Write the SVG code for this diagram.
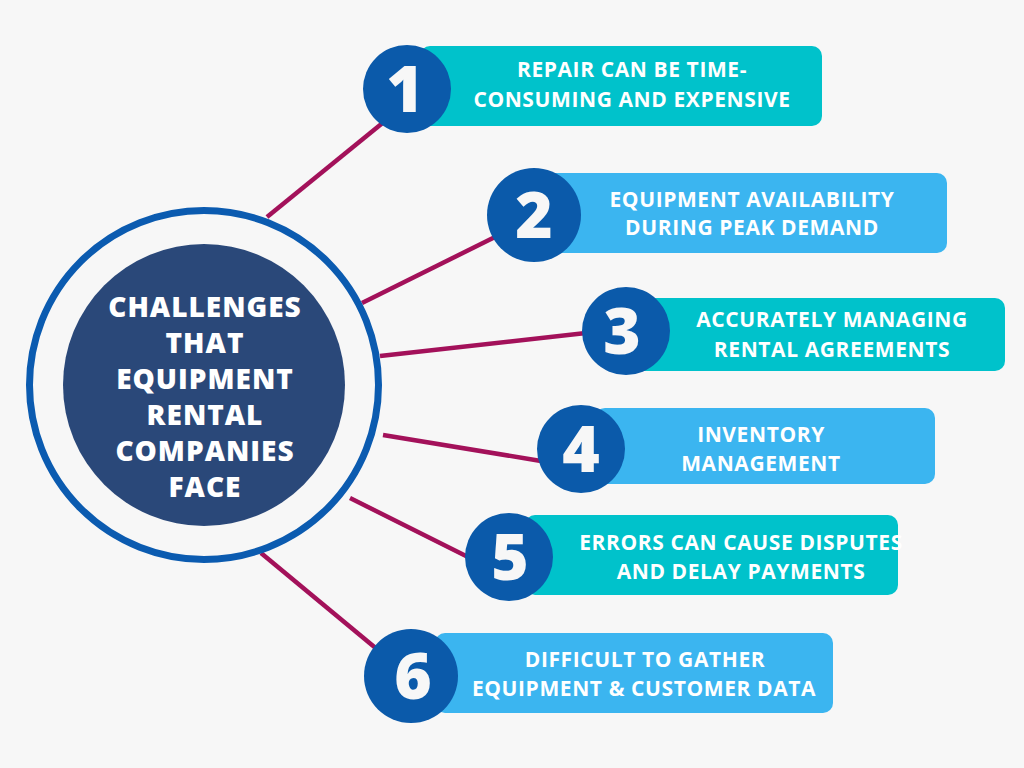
<svg xmlns="http://www.w3.org/2000/svg" width="1024" height="768" viewBox="0 0 1024 768">
<style>
.bg{fill:#F7F7F7}
.con{stroke:#A3115A;stroke-width:4.5;stroke-linecap:butt;fill:none}
.num{fill:#0B5AAA}
.teal{fill:#00C2CB}
.sky{fill:#3BB5F0}
.numt{font-family:"Open Sans","Liberation Sans",sans-serif;font-weight:800;font-size:64px;fill:#F7F7F7;text-anchor:middle}
.lbl{font-family:"Open Sans","Liberation Sans",sans-serif;font-weight:700;font-size:21px;letter-spacing:0.6px;fill:#FFFFFF;text-anchor:middle}
.ctr{font-family:"Open Sans","Liberation Sans",sans-serif;font-weight:800;font-size:28px;letter-spacing:1px;fill:#FFFFFF;text-anchor:middle}
</style>
<rect class="bg" x="0" y="0" width="1024" height="768"/>
<g id="connectors">
<line class="con" x1="267" y1="217" x2="385" y2="121"/>
<line class="con" x1="362" y1="303" x2="495" y2="237"/>
<line class="con" x1="380" y1="356" x2="586" y2="333"/>
<line class="con" x1="383" y1="435" x2="541" y2="461"/>
<line class="con" x1="350" y1="498" x2="470" y2="558"/>
<line class="con" x1="261" y1="553" x2="378" y2="650"/>
</g>
<g id="center">
<circle cx="204" cy="385" r="174.5" fill="none" stroke="#0B5BB0" stroke-width="7"/>
<circle cx="204" cy="385" r="141" fill="#2A4879"/>
<text class="ctr" x="205" y="317">CHALLENGES</text>
<text class="ctr" x="205" y="353">THAT</text>
<text class="ctr" x="205" y="389">EQUIPMENT</text>
<text class="ctr" x="205" y="425">RENTAL</text>
<text class="ctr" x="205" y="461">COMPANIES</text>
<text class="ctr" x="205" y="497">FACE</text>
</g>
<g id="item1">
<rect class="teal" x="420" y="46" width="402" height="80" rx="10"/>
<circle class="num" cx="407" cy="89" r="44"/>
<text class="numt" x="405" y="112">1</text>
<text class="lbl" x="632" y="77">REPAIR CAN BE TIME-</text>
<text class="lbl" x="632" y="107">CONSUMING AND EXPENSIVE</text>
</g>
<g id="item2">
<rect class="sky" x="530" y="173" width="417" height="80" rx="10"/>
<circle class="num" cx="534" cy="215" r="47"/>
<text class="numt" x="534" y="238">2</text>
<text class="lbl" x="752" y="207">EQUIPMENT AVAILABILITY</text>
<text class="lbl" x="752" y="235">DURING PEAK DEMAND</text>
</g>
<g id="item3">
<rect class="teal" x="630" y="298" width="375" height="73" rx="10"/>
<circle class="num" cx="626" cy="331" r="44"/>
<text class="numt" x="622" y="354">3</text>
<text class="lbl" x="832" y="327">ACCURATELY MANAGING</text>
<text class="lbl" x="832" y="357">RENTAL AGREEMENTS</text>
</g>
<g id="item4">
<rect class="sky" x="595" y="408" width="340" height="76" rx="10"/>
<circle class="num" cx="581" cy="449" r="44"/>
<text class="numt" x="581" y="472">4</text>
<text class="lbl" x="761" y="442">INVENTORY</text>
<text class="lbl" x="761" y="471">MANAGEMENT</text>
</g>
<g id="item5">
<rect class="teal" x="525" y="515" width="373" height="80" rx="10"/>
<circle class="num" cx="509" cy="557" r="44"/>
<text class="numt" x="510" y="580">5</text>
<text class="lbl" x="741" y="550">ERRORS CAN CAUSE DISPUTES</text>
<text class="lbl" x="741" y="579">AND DELAY PAYMENTS</text>
</g>
<g id="item6">
<rect class="sky" x="435" y="633" width="398" height="80" rx="10"/>
<circle class="num" cx="411" cy="676" r="47"/>
<text class="numt" x="413" y="699">6</text>
<text class="lbl" x="645" y="667">DIFFICULT TO GATHER</text>
<text class="lbl" x="644" y="696">EQUIPMENT &amp; CUSTOMER DATA</text>
</g>
</svg>
